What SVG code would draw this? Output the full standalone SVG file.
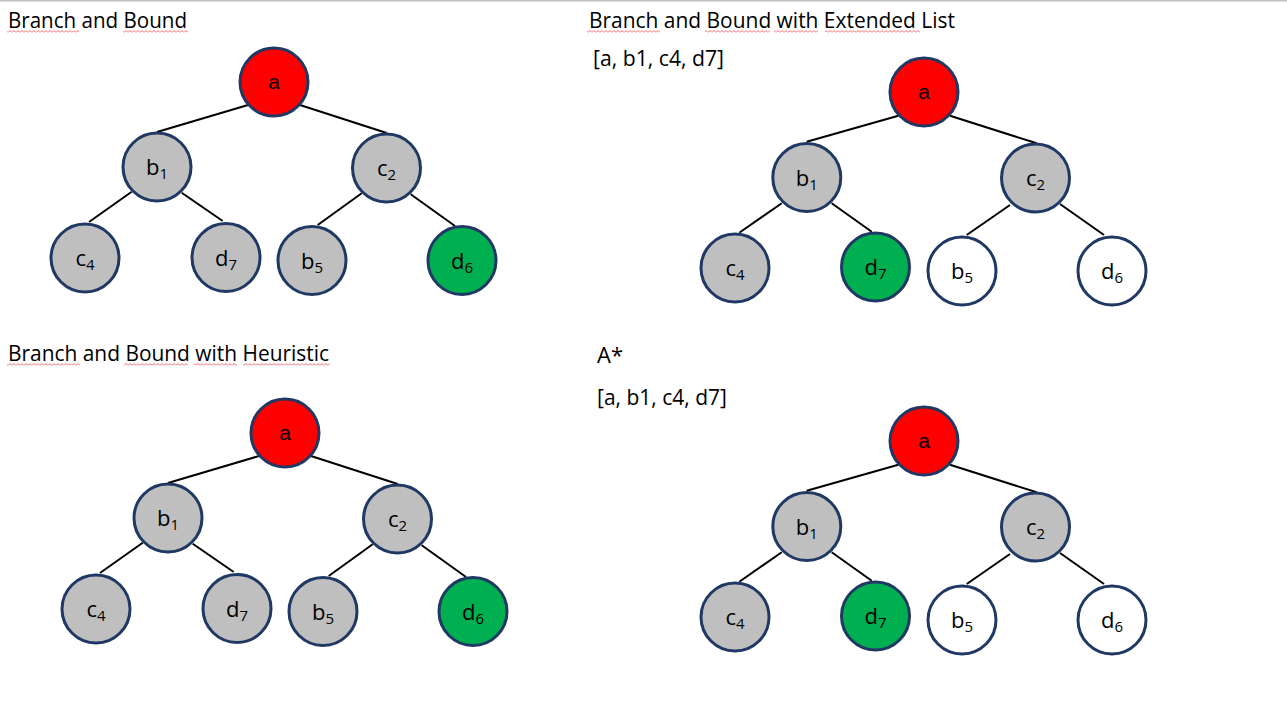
<svg xmlns="http://www.w3.org/2000/svg" width="1287" height="713" viewBox="0 0 1287 713">
  <defs>
    <!-- wavy spell-check underline -->
    <pattern id="squiggle" patternUnits="userSpaceOnUse" x="0" y="0" width="4" height="3">
      <path d="M0,2.5 L2,0.5 L4,2.5" fill="none" stroke="#F25555" stroke-width="0.9"/>
    </pattern>
    <style>
      .title { font-family: "Open Sans", "Noto Sans", sans-serif; font-size: 21px; fill: #000; }
      .edge { stroke: #000; stroke-width: 2; fill: none; }
      .node { stroke: #1F3864; stroke-width: 3; }
      .gray { fill: #BFBFBF; }
      .red { fill: #FF0000; }
      .green { fill: #00B050; }
      .white { fill: #FFFFFF; }
      .lbl { font-family: "Open Sans", "Noto Sans", sans-serif; font-size: 22px; fill: #000; text-anchor: middle; }
      .lbl-a { font-family: "Liberation Sans", Arial, sans-serif; font-size: 21px; fill: #000; text-anchor: middle; }
      .sub { font-size: 15px; }
      .wave { fill: url(#squiggle); }
    </style>
  </defs>

  <rect x="0" y="0" width="1287" height="713" fill="#FFFFFF"/>
  <rect x="0" y="0" width="1287" height="1.5" fill="#C0C0C0"/>

  <!-- headings -->
  <g id="headings">
    <text class="title" x="8" y="28" textLength="179" lengthAdjust="spacingAndGlyphs">Branch and Bound</text>
    <text class="title" x="589" y="28" textLength="366" lengthAdjust="spacingAndGlyphs">Branch and Bound with Extended List</text>
    <text class="title" x="593" y="66" textLength="131" lengthAdjust="spacingAndGlyphs">[a, b1, c4, d7]</text>
    <text class="title" x="8" y="361" textLength="321" lengthAdjust="spacingAndGlyphs">Branch and Bound with Heuristic</text>
    <text class="title" x="597" y="363" textLength="26" lengthAdjust="spacingAndGlyphs">A*</text>
    <text class="title" x="597" y="405" textLength="130" lengthAdjust="spacingAndGlyphs">[a, b1, c4, d7]</text>
  </g>
  <g id="underlines">
    <rect class="wave" x="7" y="30" width="72" height="3"/>
    <rect class="wave" x="123" y="30" width="65" height="3"/>
    <rect class="wave" x="587" y="30" width="73" height="3"/>
    <rect class="wave" x="705" y="30" width="65" height="3"/>
    <rect class="wave" x="774" y="30" width="44" height="3"/>
    <rect class="wave" x="825" y="30" width="95" height="3"/>
    <rect class="wave" x="7" y="363" width="73" height="3"/>
    <rect class="wave" x="124" y="363" width="64" height="3"/>
    <rect class="wave" x="194" y="363" width="43" height="3"/>
    <rect class="wave" x="243" y="363" width="87" height="3"/>
  </g>

  <!-- connectors -->
  <g id="connectors">
    <!-- Branch and Bound -->
    <line class="edge" x1="157" y1="132" x2="248" y2="105"/>
    <line class="edge" x1="300" y1="105" x2="386.7" y2="133"/>
    <line class="edge" x1="131.7" y1="191.7" x2="89" y2="222"/>
    <line class="edge" x1="181.7" y1="192.7" x2="222.7" y2="221"/>
    <line class="edge" x1="361.7" y1="193.3" x2="317.7" y2="225"/>
    <line class="edge" x1="410.7" y1="194.3" x2="455" y2="226"/>
    <!-- Extended List -->
    <line class="edge" x1="806.7" y1="141.7" x2="898.3" y2="115.7"/>
    <line class="edge" x1="950" y1="115.7" x2="1036.7" y2="143.3"/>
    <line class="edge" x1="781.7" y1="203.3" x2="739.3" y2="232.7"/>
    <line class="edge" x1="831.7" y1="203.3" x2="871.7" y2="231.7"/>
    <line class="edge" x1="1010" y1="205" x2="966.7" y2="235"/>
    <line class="edge" x1="1060" y1="204" x2="1104" y2="235"/>
    <!-- Heuristic -->
    <line class="edge" x1="168" y1="483" x2="259" y2="456"/>
    <line class="edge" x1="311" y1="456" x2="397.7" y2="484"/>
    <line class="edge" x1="142.7" y1="542.7" x2="100" y2="573"/>
    <line class="edge" x1="192.7" y1="543.7" x2="233.7" y2="572"/>
    <line class="edge" x1="372.7" y1="544.3" x2="328.7" y2="576"/>
    <line class="edge" x1="421.7" y1="545.3" x2="466" y2="577"/>
    <!-- A* -->
    <line class="edge" x1="806.7" y1="490.7" x2="898.3" y2="464.7"/>
    <line class="edge" x1="950" y1="464.7" x2="1036.7" y2="492.3"/>
    <line class="edge" x1="781.7" y1="552.3" x2="739.3" y2="581.7"/>
    <line class="edge" x1="831.7" y1="552.3" x2="871.7" y2="580.7"/>
    <line class="edge" x1="1010" y1="554" x2="966.7" y2="584"/>
    <line class="edge" x1="1060" y1="553" x2="1104" y2="584"/>
  </g>

  <!-- Branch and Bound tree -->
  <g id="bb-a"><circle class="node red" cx="274" cy="82" r="34"/><text class="lbl-a" x="274" y="89">a</text></g>
  <g id="bb-b1"><circle class="node gray" cx="157" cy="167" r="34"/><text class="lbl" x="157" y="175">b<tspan class="sub" dy="4">1</tspan></text></g>
  <g id="bb-c2"><circle class="node gray" cx="386.5" cy="168" r="34"/><text class="lbl" x="386.5" y="176">c<tspan class="sub" dy="4">2</tspan></text></g>
  <g id="bb-c4"><circle class="node gray" cx="85" cy="258" r="34"/><text class="lbl" x="85" y="266">c<tspan class="sub" dy="4">4</tspan></text></g>
  <g id="bb-d7"><circle class="node gray" cx="226" cy="257.5" r="34"/><text class="lbl" x="226" y="265.5">d<tspan class="sub" dy="4">7</tspan></text></g>
  <g id="bb-b5"><circle class="node gray" cx="312" cy="260.5" r="34"/><text class="lbl" x="312" y="268.5">b<tspan class="sub" dy="4">5</tspan></text></g>
  <g id="bb-d6"><circle class="node green" cx="462" cy="260.5" r="34"/><text class="lbl" x="462" y="268.5">d<tspan class="sub" dy="4">6</tspan></text></g>

  <!-- Extended List tree -->
  <g id="el-a"><circle class="node red" cx="924" cy="92" r="34"/><text class="lbl-a" x="924" y="99">a</text></g>
  <g id="el-b1"><circle class="node gray" cx="806.8" cy="177.5" r="34"/><text class="lbl" x="806.8" y="185.5">b<tspan class="sub" dy="4">1</tspan></text></g>
  <g id="el-c2"><circle class="node gray" cx="1035.5" cy="178" r="34"/><text class="lbl" x="1035.5" y="186">c<tspan class="sub" dy="4">2</tspan></text></g>
  <g id="el-c4"><circle class="node gray" cx="735" cy="268" r="34"/><text class="lbl" x="735" y="276">c<tspan class="sub" dy="4">4</tspan></text></g>
  <g id="el-d7"><circle class="node green" cx="875.5" cy="267" r="34"/><text class="lbl" x="875.5" y="275">d<tspan class="sub" dy="4">7</tspan></text></g>
  <g id="el-b5"><circle class="node white" cx="962" cy="271" r="34"/><text class="lbl" x="962" y="279">b<tspan class="sub" dy="4">5</tspan></text></g>
  <g id="el-d6"><circle class="node white" cx="1112" cy="271" r="34"/><text class="lbl" x="1112" y="279">d<tspan class="sub" dy="4">6</tspan></text></g>

  <!-- Heuristic tree -->
  <g id="h-a"><circle class="node red" cx="285" cy="433" r="34"/><text class="lbl-a" x="285" y="440">a</text></g>
  <g id="h-b1"><circle class="node gray" cx="168" cy="518" r="34"/><text class="lbl" x="168" y="526">b<tspan class="sub" dy="4">1</tspan></text></g>
  <g id="h-c2"><circle class="node gray" cx="397.5" cy="519" r="34"/><text class="lbl" x="397.5" y="527">c<tspan class="sub" dy="4">2</tspan></text></g>
  <g id="h-c4"><circle class="node gray" cx="96" cy="609" r="34"/><text class="lbl" x="96" y="617">c<tspan class="sub" dy="4">4</tspan></text></g>
  <g id="h-d7"><circle class="node gray" cx="237" cy="608.5" r="34"/><text class="lbl" x="237" y="616.5">d<tspan class="sub" dy="4">7</tspan></text></g>
  <g id="h-b5"><circle class="node gray" cx="323" cy="611.5" r="34"/><text class="lbl" x="323" y="619.5">b<tspan class="sub" dy="4">5</tspan></text></g>
  <g id="h-d6"><circle class="node green" cx="473" cy="611.5" r="34"/><text class="lbl" x="473" y="619.5">d<tspan class="sub" dy="4">6</tspan></text></g>

  <!-- A* tree -->
  <g id="as-a"><circle class="node red" cx="924" cy="441" r="34"/><text class="lbl-a" x="924" y="448">a</text></g>
  <g id="as-b1"><circle class="node gray" cx="806.8" cy="526.5" r="34"/><text class="lbl" x="806.8" y="534.5">b<tspan class="sub" dy="4">1</tspan></text></g>
  <g id="as-c2"><circle class="node gray" cx="1035.5" cy="527" r="34"/><text class="lbl" x="1035.5" y="535">c<tspan class="sub" dy="4">2</tspan></text></g>
  <g id="as-c4"><circle class="node gray" cx="735" cy="617" r="34"/><text class="lbl" x="735" y="625">c<tspan class="sub" dy="4">4</tspan></text></g>
  <g id="as-d7"><circle class="node green" cx="875.5" cy="616" r="34"/><text class="lbl" x="875.5" y="624">d<tspan class="sub" dy="4">7</tspan></text></g>
  <g id="as-b5"><circle class="node white" cx="962" cy="620" r="34"/><text class="lbl" x="962" y="628">b<tspan class="sub" dy="4">5</tspan></text></g>
  <g id="as-d6"><circle class="node white" cx="1112" cy="620" r="34"/><text class="lbl" x="1112" y="628">d<tspan class="sub" dy="4">6</tspan></text></g>
</svg>
